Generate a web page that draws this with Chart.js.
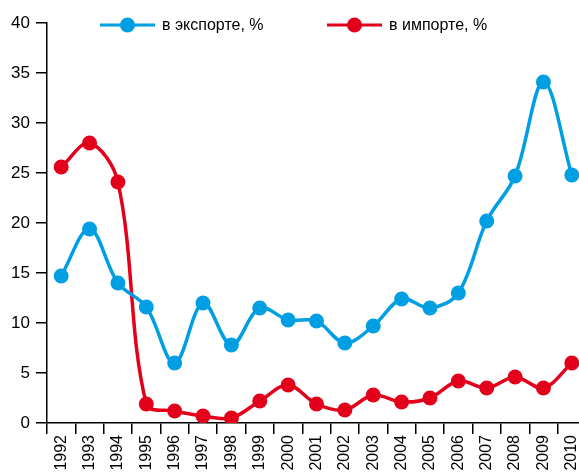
<!DOCTYPE html>
<html>
<head>
<meta charset="utf-8">
<script src="https://cdn.jsdelivr.net/npm/chart.js@4/dist/chart.umd.min.js"></script>
<style>
  html, body { margin: 0; padding: 0; background: #fff; overflow: hidden; }
  #clip { width: 579px; height: 472px; overflow: hidden; }
  /* the plot runs slightly past the right edge in the original */
  #wrap { width: 586px; height: 472px; }
</style>
</head>
<body>
<div id="clip"><div id="wrap"><canvas id="chart"></canvas></div></div>
<script>
// Data
const years = ['1992', '1993', '1994', '1995', '1996', '1997', '1998', '1999', '2000', '2001',
               '2002', '2003', '2004', '2005', '2006', '2007', '2008', '2009', '2010'];
const exportShare = [14.7, 19.4, 14.0, 11.6, 6.0, 12.0, 7.8, 11.5, 10.3, 10.2,
                     8.0, 9.7, 12.4, 11.5, 13.0, 20.2, 24.7, 34.1, 24.8];
const importShare = [25.6, 28.0, 24.1, 1.9, 1.2, 0.7, 0.5, 2.2, 3.8, 1.9,
                     1.3, 2.8, 2.1, 2.5, 4.2, 3.5, 4.6, 3.5, 6.0];
const seriesLabels = ['в экспорте, %', 'в импорте, %'];
const yTicks = [0, 5, 10, 15, 20, 25, 30, 35, 40];

const colors = { blue: '#009fe3', red: '#e2001a' };
const FONT = "'Liberation Sans', Arial, sans-serif";

// Legend drawn inside the plot area, as in the original
const inlineLegend = {
    id: 'inlineLegend',
    afterDraw(chart) {
        const ctx = chart.ctx;
        const items = [
            { x: 100, ds: chart.data.datasets[0] },
            { x: 327, ds: chart.data.datasets[1] }
        ];
        const y = 25;
        ctx.save();
        items.forEach(it => {
            ctx.strokeStyle = it.ds.borderColor;
            ctx.lineWidth = 3;
            ctx.beginPath();
            ctx.moveTo(it.x, y);
            ctx.lineTo(it.x + 55, y);
            ctx.stroke();
            ctx.fillStyle = it.ds.borderColor;
            ctx.beginPath();
            ctx.arc(it.x + 27.5, y, 7.5, 0, Math.PI * 2);
            ctx.fill();
            ctx.fillStyle = '#000';
            ctx.font = '16px ' + FONT;
            ctx.textBaseline = 'middle';
            ctx.textAlign = 'left';
            ctx.fillText(it.ds.label, it.x + 62, y + 1);
        });
        ctx.restore();
    }
};

const lineStyle = color => ({
    borderColor: color,
    backgroundColor: color,
    borderWidth: 3.5,
    pointRadius: 7.5,
    pointBorderWidth: 0,
    pointHoverRadius: 7.5,
    tension: 0.35,
    fill: false
});

new Chart(document.getElementById('chart'), {
    type: 'line',
    data: {
        labels: years,
        datasets: [
            { label: seriesLabels[0], data: exportShare, ...lineStyle(colors.blue) },
            { label: seriesLabels[1], data: importShare, ...lineStyle(colors.red) }
        ]
    },
    options: {
        responsive: true,
        maintainAspectRatio: false,
        animation: false,
        layout: { autoPadding: false, padding: { top: 23, right: 0, left: 0, bottom: 0 } },
        plugins: {
            legend: { display: false },
            tooltip: { enabled: false }
        },
        scales: {
            x: {
                offset: true,
                grid: {
                    offset: true,
                    drawOnChartArea: false,
                    drawTicks: true,
                    tickLength: 11,
                    color: '#000',
                    lineWidth: 1.5
                },
                border: { display: true, color: '#000', width: 1.5 },
                ticks: {
                    color: '#000',
                    font: { family: FONT, size: 16 },
                    minRotation: 90,
                    maxRotation: 90,
                    autoSkip: false,
                    padding: 1
                },
                afterFit: scale => {
                    scale.height = 49;
                    scale.paddingLeft = 0;
                    scale.paddingRight = 0;
                }
            },
            y: {
                min: 0,
                max: 40,
                afterBuildTicks: axis => { axis.ticks = yTicks.map(v => ({ value: v })); },
                grid: {
                    drawOnChartArea: false,
                    drawTicks: true,
                    tickLength: 11,
                    color: '#000',
                    lineWidth: 1.5
                },
                border: { display: true, color: '#000', width: 1.5 },
                ticks: {
                    color: '#000',
                    font: { family: FONT, size: 17 },
                    padding: 6
                },
                afterFit: scale => { scale.width = 47; }
            }
        }
    },
    plugins: [inlineLegend]
});
</script>
</body>
</html>
